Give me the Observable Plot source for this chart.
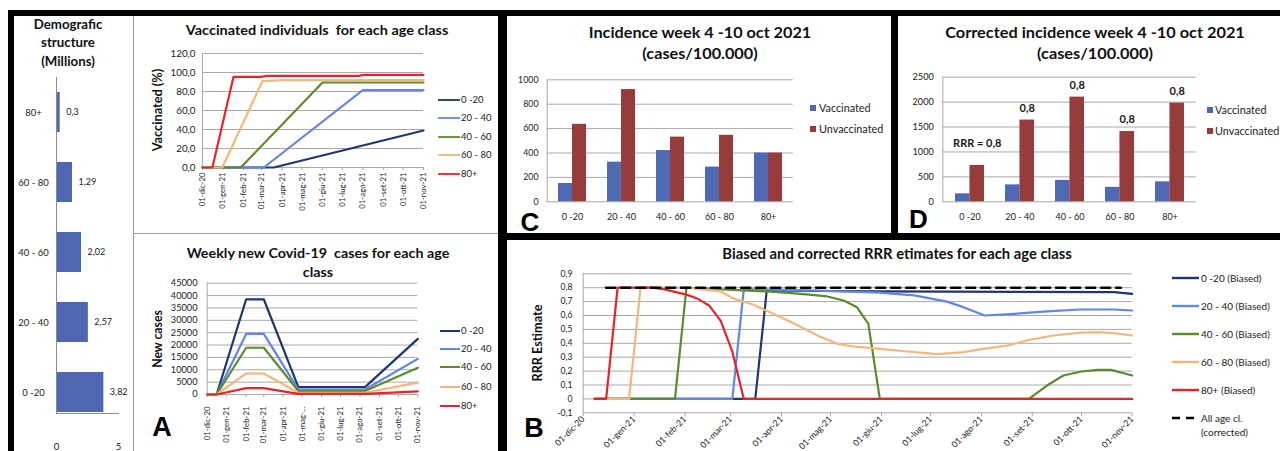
<!DOCTYPE html>
<html><head><meta charset="utf-8">
<script src="https://cdn.jsdelivr.net/npm/d3@7"></script>
<script src="https://cdn.jsdelivr.net/npm/@observablehq/plot@0.6"></script>
<style>
body{margin:0;background:#fff;font-family:Lato,"Open Sans",sans-serif;}
#root{position:relative;width:1280px;height:451px;overflow:hidden;background:#fff;}
</style></head><body><div id="root"></div>
<script>
// ---------------- DATA ----------------
const ageClasses = ["0 -20","20 - 40","40 - 60","60 - 80","80+"];
const ageColors  = ["#1f3670","#6286e4","#5b8c2c","#f3b67c","#e2262b"];

const demoCategories = ["80+","60 - 80","40 - 60","20 - 40","0 -20"];
const demoMillions   = [0.3, 1.29, 2.02, 2.57, 3.82];
const demoLabels     = ["0,3","1,29","2,02","2,57","3,82"];

const monthDates  = ["2020-12-01","2021-01-01","2021-02-01","2021-03-01","2021-04-01","2021-05-01","2021-06-01","2021-07-01","2021-08-01","2021-09-01","2021-10-01","2021-11-01"];
const monthLabels = ["01-dic-20","01-gen-21","01-feb-21","01-mar-21","01-apr-21","01-mag-21","01-giu-21","01-lug-21","01-ago-21","01-set-21","01-ott-21","01-nov-21"];
const monthLabelsCases = ["01-dic-20","01-gen-21","01-feb-21","01-mar-21","01-apr-21","01-mag-...","01-giu-21","01-lug-21","01-ago-21","01-set-21","01-ott-21","01-nov-21"];

// Vaccinated (%) per age class
const vac020  = [["2020-12-01",0],["2021-03-19",0],["2021-11-01",39]];
const vac2040 = [["2020-12-01",0],["2021-03-04",0],["2021-08-01",81.5],["2021-11-01",81.5]];
const vac4060 = [["2020-12-01",0],["2021-01-28",0],["2021-06-01",89.5],["2021-11-01",89.5]];
const vac6080 = [["2020-12-01",0],["2020-12-31",0],["2021-03-02",91],["2021-04-05",92],["2021-11-01",92]];
const vac80   = [["2020-12-01",0],["2020-12-16",0],["2021-01-17",95.5],["2021-03-01",95.5],["2021-03-08",96.5],["2021-07-26",96.5],["2021-08-02",97.5],["2021-11-01",97.5]];

// Weekly new cases
const caseDates = ["2020-12-01","2020-12-16","2021-02-01","2021-03-01","2021-04-25","2021-08-09","2021-11-01"];
const cases020  = [0,0,38500,38500,3000,3000,22500];
const cases2040 = [0,0,24500,24500,2000,2000,14400];
const cases4060 = [0,0,18900,18900,1400,1400,10800];
const cases6080 = [0,0,8500,8500,700,700,4800];
const cases80   = [0,0,2600,2600,250,250,1300];

// Incidence (C) and corrected incidence (D)
const incidenceVac     = [150, 325, 420, 285, 400];
const incidenceUnvac   = [635, 920, 530, 545, 400];
const correctedVac     = [160, 340, 430, 290, 400];
const correctedUnvac   = [730, 1640, 2100, 1410, 1980];
const rrrLabels        = ["RRR = 0,8","0,8","0,8","0,8","0,8"];
const vacSeries = ["Vaccinated","Unvaccinated"];
const vacColors = ["#4f6ab3","#963c3b"];

// RRR estimates (B)
const rrr020  = [["2020-12-08",0],["2021-03-16",0],["2021-03-23",0.78],["2021-05-31",0.773],["2021-10-21",0.768],["2021-11-01",0.756]];
const rrr2040 = [["2020-12-08",0],["2021-03-02",0],["2021-03-09",0.79],["2021-04-20",0.78],["2021-05-31",0.765],["2021-06-21",0.745],["2021-07-11",0.70],["2021-07-21",0.66],["2021-08-03",0.60],["2021-08-21",0.612],["2021-09-10",0.629],["2021-09-30",0.643],["2021-10-21",0.643],["2021-11-01",0.636]];
const rrr4060 = [["2020-12-08",0],["2021-01-26",0],["2021-02-02",0.8],["2021-03-02",0.785],["2021-03-23",0.773],["2021-04-13",0.756],["2021-04-29",0.737],["2021-05-09",0.708],["2021-05-17",0.66],["2021-05-24",0.54],["2021-05-31",0],["2021-08-30",0],["2021-09-10",0.096],["2021-09-20",0.168],["2021-10-01",0.197],["2021-10-11",0.209],["2021-10-19",0.209],["2021-11-01",0.168]];
const rrr6080 = [["2020-12-08",0],["2020-12-29",0],["2021-01-05",0.8],["2021-02-02",0.8],["2021-02-23",0.773],["2021-03-02",0.725],["2021-03-15",0.677],["2021-03-27",0.612],["2021-04-09",0.54],["2021-04-23",0.456],["2021-05-05",0.396],["2021-05-15",0.377],["2021-05-31",0.36],["2021-06-17",0.341],["2021-07-05",0.322],["2021-07-21",0.336],["2021-08-02",0.36],["2021-08-17",0.384],["2021-08-31",0.427],["2021-09-14",0.456],["2021-09-29",0.475],["2021-10-11",0.48],["2021-10-21",0.473],["2021-11-01",0.456]];
const rrr80   = [["2020-12-08",0],["2020-12-15",0],["2020-12-22",0.8],["2021-01-12",0.8],["2021-01-19",0.79],["2021-01-26",0.77],["2021-02-02",0.75],["2021-02-09",0.72],["2021-02-16",0.67],["2021-02-23",0.56],["2021-03-02",0.34],["2021-03-09",0],["2021-11-01",0]];
const rrrCorrected = [["2020-12-15",0.8],["2021-10-25",0.8]];
const rrrLegend = ["0 -20 (Biased)","20 - 40 (Biased)","40 - 60 (Biased)","60 - 80 (Biased)","80+ (Biased)","All age cl.\n(corrected)"];

// ---------------- HELPERS ----------------
const root = document.getElementById("root");
const FONT = "Lato, 'Open Sans', sans-serif";
const BIG = "'Liberation Sans', Arial, sans-serif";
const GRID = "#a9a9a9";
function rect(l, t, w, h, bg) {
  const d = document.createElement("div");
  Object.assign(d.style, {position:"absolute", left:l+"px", top:t+"px", width:w+"px", height:h+"px", background:bg});
  root.appendChild(d);
}
function txt(str, o) {
  const d = document.createElement("div");
  d.textContent = str;
  Object.assign(d.style, {position:"absolute", left:o.cx+"px", top:o.cy+"px", whiteSpace:"pre", textAlign:"center",
    lineHeight: o.lh ? o.lh+"px" : (o.lhr || "1"), fontFamily: o.family || FONT, fontSize: o.size+"px",
    fontWeight: o.weight || "normal", color: o.color || "#111"});
  root.appendChild(d);
  const s = o.s || (o.w ? o.w / d.offsetWidth : 1);
  d.style.transform = `translate(-50%,-50%)${o.rot ? ` rotate(${o.rot}deg)` : ""} scaleX(${s})`;
  return s;
}
function put(svg, l, t) {
  svg.style.position = "absolute"; svg.style.left = l+"px"; svg.style.top = t+"px";
  root.appendChild(svg);
}
function legend(items, colors, x, ys, o) {
  items.forEach((name, i) => {
    const d = document.createElement("div");
    const lh = o.lh || 14;
    Object.assign(d.style, {position:"absolute", left:x+"px", top:(ys[i]-lh/2)+"px", display:"flex", alignItems:"flex-start",
      fontFamily:FONT, fontSize:o.size+"px", color:"#222", whiteSpace:"pre", lineHeight:lh+"px"});
    let sw;
    if (o.square) {
      sw = `<svg width="${o.sw}" height="${lh}"><rect x="0" y="${(lh-o.sq)/2}" width="${o.sq}" height="${o.sq}" fill="${colors[i]}"/></svg>`;
    } else {
      const dash = (o.dashed && o.dashed[i]) ? `stroke-dasharray="${o.dashed[i]}"` : "";
      sw = `<svg width="${o.sw}" height="${lh}"><line x1="0" x2="${o.sw}" y1="${lh/2}" y2="${lh/2}" stroke="${colors[i]}" stroke-width="${o.width||2}" ${dash}/></svg>`;
    }
    d.innerHTML = sw + `<span style="margin-left:${o.gap}px">${name}</span>`;
    root.appendChild(d);
  });
}
const toRows = (series, arr) => arr.map(([d, v]) => ({series, date: new Date(d), value: v}));
const tickDates = monthDates.map(d => new Date(d));
const timeDomain = [tickDates[0], tickDates[tickDates.length - 1]];
const monthFmt = labels => d => labels[tickDates.findIndex(t => +t === +d)];
const comma1 = d => d.toFixed(1).replace(".", ",");
const baseStyle = {fontFamily: FONT, color: "#1a1a1a", background: "transparent", overflow: "visible"};

// ---------------- FRAMES ----------------
rect(8, 10, 1272, 6, "#000");
rect(8, 10, 6, 441, "#000");
rect(498, 10, 9, 441, "#000");
rect(891, 10, 7, 230, "#000");
rect(507, 233, 773, 7, "#000");
rect(133, 16, 1, 435, "#9a9a9a");
rect(134, 233, 364, 1, "#9a9a9a");

// ---------------- LEFT: DEMOGRAPHIC ----------------
const demoRows = demoCategories.map((c, i) => ({cat: c, val: demoMillions[i], lab: demoLabels[i]}));
put(Plot.plot({
  width: 119, height: 381, marginLeft: 42, marginRight: 15, marginTop: 7, marginBottom: 38,
  style: baseStyle,
  x: {domain: [0, 5]},
  y: {domain: demoCategories, range: [7, 357], paddingInner: 0.43, paddingOuter: 0.215},
  marks: [
    Plot.barX(demoRows, {y: "cat", x: "val", fill: "#4f67b1"}),
    Plot.ruleX([0], {stroke: "#8c8c8c"}),
    Plot.frame({anchor: "bottom", stroke: "#8c8c8c"}),
    Plot.text(demoRows, {y: "cat", x: "val", text: "lab", textAnchor: "start", dx: 6, fontSize: 9}),
    Plot.text(demoRows, {y: "cat", frameAnchor: "left", textAnchor: "middle", dx: -23, text: "cat", fontSize: 9.5}),
    Plot.axisX({ticks: [0, 5], tickSize: 0, tickPadding: 30, tickFormat: d => String(d), fontSize: 9.5, label: null}),
    Plot.axisY({ticks: [], label: null})
  ]
}), 14, 70);
txt("Demografic\nstructure\n(Millions)", {cx: 67.5, cy: 43.5, lh: 18.5, size: 12.5, weight: "bold", w: 69});

// ---------------- A: VACCINATED ----------------
const vacRows = [vac020, vac2040, vac4060, vac6080, vac80].flatMap((a, i) => toRows(ageClasses[i], a));
put(Plot.plot({
  width: 363, height: 217, marginLeft: 68, marginRight: 74, marginTop: 37, marginBottom: 66,
  style: baseStyle,
  x: {type: "utc", domain: timeDomain},
  y: {domain: [0, 120]},
  color: {domain: ageClasses, range: ageColors},
  marks: [
    Plot.gridY({ticks: d3.range(0, 121, 20), stroke: GRID, strokeOpacity: 1}),
    Plot.ruleX([timeDomain[0]], {stroke: GRID}),
    Plot.axisY({ticks: d3.range(0, 121, 20), tickSize: 0, tickPadding: 7, tickFormat: comma1, fontSize: 9.8, label: null}),
    Plot.axisX({ticks: tickDates, tickFormat: monthFmt(monthLabels), tickRotate: -90, tickSize: 3, tickPadding: 2, fontSize: 7.8, stroke: GRID, label: null}),
    Plot.line(vacRows, {x: "date", y: "value", stroke: "series", strokeWidth: 2.2})
  ]
}), 134, 16);
txt("Vaccinated individuals  for each age class", {cx: 317, cy: 30, size: 14, weight: "bold", w: 263});
txt("Vaccinated (%)", {cx: 158, cy: 110, size: 13.5, weight: "bold", w: 83, rot: -90});
legend(ageClasses, ageColors, 438, [100, 118.3, 136.7, 155, 174.3], {sw: 22, gap: 1, size: 9.5, width: 1.8, lh: 12});

// ---------------- A: WEEKLY CASES ----------------
const caseSeries = [cases020, cases2040, cases4060, cases6080, cases80];
const caseRows = caseSeries.flatMap((vals, i) => vals.map((v, j) => ({series: ageClasses[i], date: new Date(caseDates[j]), value: v})));
put(Plot.plot({
  width: 363, height: 217, marginLeft: 72.7, marginRight: 79.7, marginTop: 48.7, marginBottom: 57,
  style: baseStyle,
  x: {type: "utc", domain: timeDomain},
  y: {domain: [0, 45000]},
  color: {domain: ageClasses, range: ageColors},
  marks: [
    Plot.gridY({ticks: d3.range(0, 45001, 5000), stroke: GRID, strokeOpacity: 1}),
    Plot.ruleX([timeDomain[0]], {stroke: GRID}),
    Plot.axisY({ticks: d3.range(0, 45001, 5000), tickSize: 0, tickPadding: 9.7, tickFormat: d => String(d), fontSize: 9.2, label: null}),
    Plot.axisX({ticks: tickDates, tickFormat: monthFmt(monthLabelsCases), tickRotate: -90, tickSize: 3, tickPadding: 9, fontSize: 7.8, stroke: GRID, label: null}),
    Plot.line(caseRows, {x: "date", y: "value", stroke: "series", strokeWidth: 2.2})
  ]
}), 134, 234);
const sWeekly = txt("Weekly new Covid-19  cases for each age", {cx: 318, cy: 253, size: 14, weight: "bold", w: 263});
txt("class", {cx: 318, cy: 272, size: 14, weight: "bold", s: sWeekly});
txt("New cases", {cx: 158, cy: 339, size: 13.5, weight: "bold", w: 58, rot: -90});
legend(ageClasses, ageColors, 440, [330.7, 349, 367, 386.7, 405.7], {sw: 20, gap: 1, size: 9.5, width: 2, lh: 12});
txt("A", {cx: 162, cy: 428, size: 27, weight: "bold", family: BIG, color: "#000", lhr: "0.72"});

// ---------------- C / D: GROUPED BARS ----------------
function groupedBars(vac, unvac, yMax, yStep, left, top, W, ml, mr, mt, mb, yPad, yFont, extra) {
  const rows = ageClasses.map((c, i) => ({cat: c, vac: vac[i], unvac: unvac[i], lab: rrrLabels[i]}));
  const bw = (W - ml - mr) / ageClasses.length * (1 - 0.43);
  const marks = [
    Plot.gridY({ticks: d3.range(0, yMax + 1, yStep), stroke: GRID, strokeOpacity: 1}),
    Plot.frame({anchor: "left", stroke: GRID}),
    Plot.axisY({ticks: d3.range(0, yMax + 1, yStep), tickSize: 0, tickPadding: yPad, tickFormat: d => String(d), fontSize: yFont, label: null}),
    Plot.axisX({tickSize: 0, tickPadding: 12, fontSize: 9, label: null}),
    Plot.barY(rows, {x: "cat", y: "vac", fill: vacColors[0], insetRight: bw / 2}),
    Plot.barY(rows, {x: "cat", y: "unvac", fill: vacColors[1], insetLeft: bw / 2})
  ];
  if (extra) marks.push(...extra(rows, bw));
  put(Plot.plot({
    width: W, height: 217, marginLeft: ml, marginRight: mr, marginTop: mt, marginBottom: mb,
    style: baseStyle,
    x: {domain: ageClasses, paddingInner: 0.43, paddingOuter: 0.215},
    y: {domain: [0, yMax]},
    marks
  }), left, top);
}
groupedBars(incidenceVac, incidenceUnvac, 1000, 200, 507, 16, 384, 39.7, 98.3, 63.3, 31.7, 8.7, 8.8);
txt("Incidence week 4 -10 oct 2021\n(cases/100.000)", {cx: 700, cy: 42.5, lh: 21, size: 15.5, weight: "bold", w: 223});
legend(vacSeries, vacColors, 810, [108, 129], {square: true, sw: 7, sq: 6, gap: 2, size: 10.8, lh: 14});
txt("C", {cx: 530, cy: 221.5, size: 26, weight: "bold", family: BIG, color: "#000", lhr: "0.72"});

groupedBars(correctedVac, correctedUnvac, 2500, 500, 898, 16, 382, 44.3, 84.3, 60.7, 31.7, 9, 9.2,
  (rows, bw) => [
    Plot.text(rows.slice(0, 1), {x: "cat", y: "unvac", text: "lab", dx: bw / 4, dy: -22, fontWeight: "bold", fontSize: 11}),
    Plot.text(rows.slice(1), {x: "cat", y: "unvac", text: "lab", dx: bw / 4, dy: -12, fontWeight: "bold", fontSize: 11})
  ]);
txt("Corrected incidence week 4 -10 oct 2021\n(cases/100.000)", {cx: 1095, cy: 42.5, lh: 21, size: 15.5, weight: "bold", w: 300});
legend(vacSeries, vacColors, 1207, [110, 131], {square: true, sw: 6, sq: 6, gap: 2, size: 10.8, lh: 14});
txt("D", {cx: 918.5, cy: 219, size: 26, weight: "bold", family: BIG, color: "#000", lhr: "0.72"});

// ---------------- B: RRR ESTIMATES ----------------
const rrrRows = [rrr020, rrr2040, rrr4060, rrr6080, rrr80].flatMap((a, i) => toRows(ageClasses[i], a));
const corrRows = toRows("corrected", rrrCorrected);
const rrrTicks = d3.range(-1, 10).map(i => i / 10);
put(Plot.plot({
  width: 773, height: 211, marginLeft: 75.7, marginRight: 148.3, marginTop: 33.3, marginBottom: 38.7,
  style: baseStyle,
  x: {type: "utc", domain: timeDomain},
  y: {domain: [-0.1, 0.9]},
  color: {domain: ageClasses, range: ageColors},
  marks: [
    Plot.gridY({ticks: rrrTicks, stroke: GRID, strokeOpacity: 1}),
    Plot.ruleX([timeDomain[0]], {stroke: GRID}),
    Plot.axisY({ticks: rrrTicks, tickSize: 0, tickPadding: 10.7, tickFormat: d => d === 0 ? "0" : String(d).replace(".", ","), fontSize: 8.6, label: null}),
    Plot.axisX({ticks: tickDates, tickFormat: monthFmt(monthLabels), tickRotate: -45, tickSize: 4, tickPadding: 1, fontSize: 8.7, stroke: GRID, label: null}),
    Plot.line(rrrRows, {x: "date", y: "value", stroke: "series", strokeWidth: 2.2}),
    Plot.line(corrRows, {x: "date", y: "value", stroke: "#000", strokeWidth: 2.6, strokeDasharray: "9,6"})
  ]
}), 507, 240);
txt("Biased and corrected RRR etimates for each age class", {cx: 897, cy: 254, size: 14.5, weight: "bold", w: 349});
txt("RRR Estimate", {cx: 538, cy: 343, size: 13.5, weight: "bold", w: 77, rot: -90});
legend(rrrLegend, [...ageColors, "#000"], 1172, [277.7, 305.7, 334, 362.3, 390, 418.3], {sw: 27, gap: 2, size: 10, width: 2.4, lh: 14, dashed: [null, null, null, null, null, "8,6"]});
txt("B", {cx: 534, cy: 429, size: 27, weight: "bold", family: BIG, color: "#000", lhr: "0.72"});
</script></body></html>
